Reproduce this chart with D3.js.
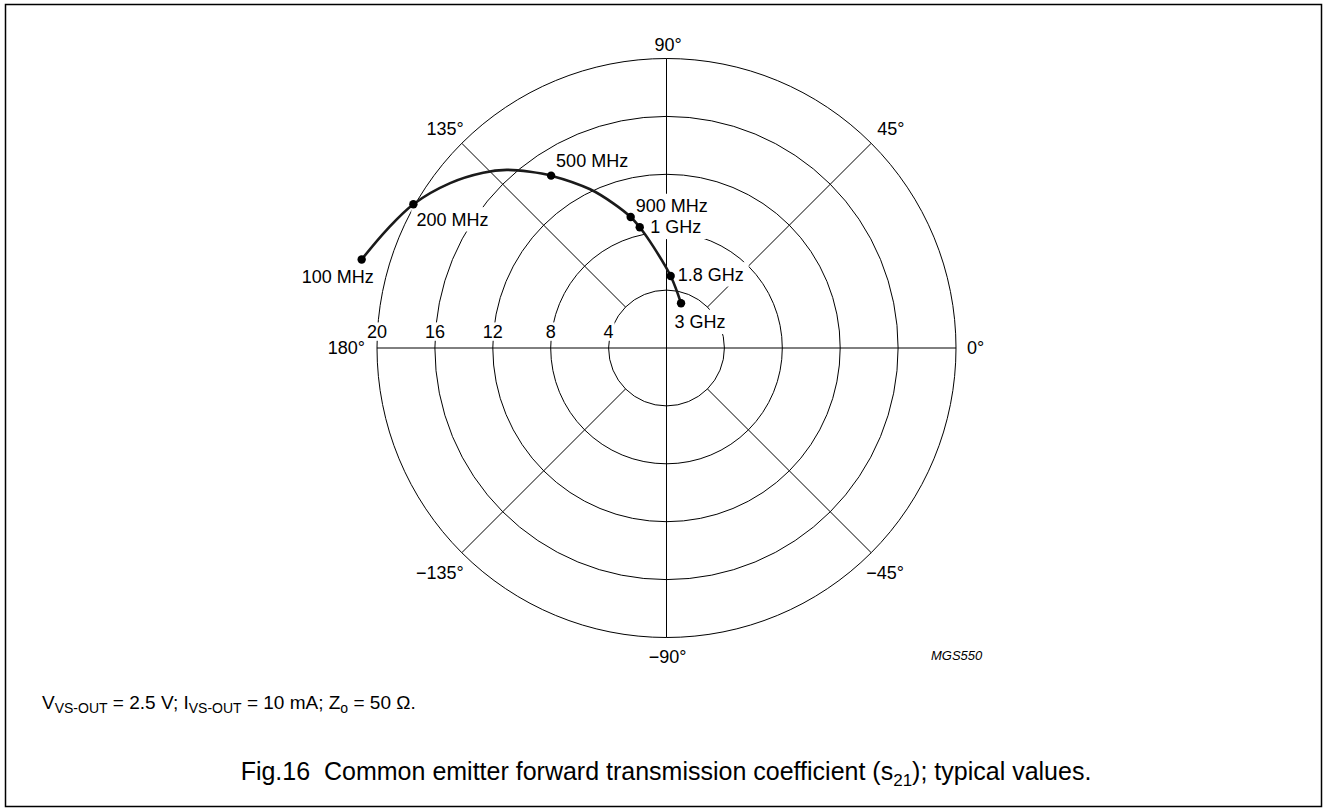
<!DOCTYPE html>
<html>
<head>
<meta charset="utf-8">
<script src="https://cdn.jsdelivr.net/npm/d3@7"></script>
<style>
  html, body { margin: 0; padding: 0; background: #fff; }
  svg { display: block; }
  text { font-family: "Liberation Sans", Arial, Helvetica, sans-serif; fill: #000; white-space: pre; }
</style>
</head>
<body>
<svg id="chart" width="1327" height="812"></svg>
<script>
// ---------- data ----------
const ringTicks = [4, 8, 12, 16, 20];
const angleTicks = [0, 45, 90, 135, 180, -135, -90, -45];
const angleTickLabels = ["0°", "45°", "90°", "135°", "180°", "−135°", "−90°", "−45°"];

// marked frequencies (|s21| , phase in degrees)
const freqLabels = ["100 MHz", "200 MHz", "500 MHz", "900 MHz", "1 GHz", "1.8 GHz", "3 GHz"];
const markerMag   = [21.93, 20.11, 14.33, 9.38, 8.54, 4.98, 3.25];
const markerPhase = [163.8, 150.4, 123.8, 105.3, 102.5, 86.7, 72.0];

// traced curve (magnitude, phase)
const traceMag   = [21.93, 20.98, 20.11, 18.79, 17.52, 16.53, 15.40, 14.33, 12.17, 10.65, 9.38, 8.54, 7.06, 4.98, 3.25];
const tracePhase = [163.8, 157.1, 150.4, 142.7, 136.3, 131.9, 127.75, 123.8, 115.7, 110.2, 105.3, 102.5, 97.4, 86.7, 72.0];

// ---------- layout ----------
const cx = 666.5, cy = 348, R = 289.5;
const svg = d3.select("#chart");
const r = d3.scaleLinear().domain([0, 20]).range([0, R]);
const rad = d => d * Math.PI / 180;
const px = (m, a) => [cx + r(m) * Math.cos(rad(a)), cy - r(m) * Math.sin(rad(a))];

// frame
svg.append("rect").attr("x", 5.5).attr("y", 4.5).attr("width", 1316).attr("height", 802)
  .attr("fill", "none").attr("stroke", "#000").attr("stroke-width", 1.5);

const grid = svg.append("g").attr("stroke", "#000").attr("stroke-width", 1).attr("fill", "none");
grid.selectAll("circle").data(ringTicks).join("circle")
  .attr("cx", cx).attr("cy", cy).attr("r", d => r(d));
// full axes
[0, 90].forEach(a => {
  const p1 = px(20, a), p2 = px(20, a + 180);
  grid.append("line").attr("x1", p1[0]).attr("y1", p1[1]).attr("x2", p2[0]).attr("y2", p2[1]);
});
// diagonal spokes from ring 4 to ring 20
[45, 135, -135, -45].forEach(a => {
  const p1 = px(4, a), p2 = px(20, a);
  grid.append("line").attr("x1", p1[0]).attr("y1", p1[1]).attr("x2", p2[0]).attr("y2", p2[1]);
});

// helper: label with white knock-out background
function knockLabel(g, x, y, txt, anchor, size, padX, padY) {
  const grp = g.append("g");
  const t = grp.append("text").attr("x", x).attr("y", y).attr("text-anchor", anchor)
    .attr("font-size", size).text(txt);
  const b = t.node().getBBox();
  grp.insert("rect", "text").attr("x", b.x - padX).attr("y", b.y + b.height * 0.12 - padY)
    .attr("width", b.width + 2 * padX).attr("height", b.height * 0.72 + 2 * padY).attr("fill", "#fff");
  return grp;
}

const labels = svg.append("g");

// ring labels
ringTicks.forEach(v => {
  knockLabel(labels, cx - r(v), cy - 10, String(v), "middle", 18, 1, 2);
});

// angle labels : offsets relative to outer endpoint
const angleLabelLayout = {
  "0": [11, 6, "start"], "45": [6, -8, "start"], "90": [-12, -8, "start"],
  "135": [2, -8, "end"], "180": [-12, 6, "end"], "-135": [2, 26, "end"],
  "-90": [1, 25, "middle"], "-45": [-5, 26, "start"]
};
angleTicks.forEach((a, i) => {
  const p = px(20, a), L = angleLabelLayout[String(a)];
  labels.append("text").attr("x", p[0] + L[0]).attr("y", p[1] + L[1])
    .attr("text-anchor", L[2]).attr("font-size", 18).text(angleTickLabels[i]);
});

// frequency labels : offsets relative to marker
const freqLabelLayout = [[12, 24, "end"], [3, 21.5, "start"], [5, -9, "start"], [5, -4.7, "start"],
                         [10.5, 6, "start"], [7, 4.7, "start"], [-6.5, 25, "start"]];
freqLabels.forEach((f, i) => {
  const p = px(markerMag[i], markerPhase[i]), L = freqLabelLayout[i];
  knockLabel(labels, p[0] + L[0], p[1] + L[1], f, L[2], 18, 5, 5);
});

// curve
const tracePts = traceMag.map((m, i) => px(m, tracePhase[i]));
svg.append("path").attr("d", d3.line().curve(d3.curveCatmullRom.alpha(0.5))(tracePts))
  .attr("fill", "none").attr("stroke", "#1a1a1a").attr("stroke-width", 2.6)
  .attr("stroke-linejoin", "round").attr("stroke-linecap", "round");

// markers
svg.append("g").selectAll("circle").data(markerMag).join("circle")
  .attr("cx", (d, i) => px(d, markerPhase[i])[0])
  .attr("cy", (d, i) => px(d, markerPhase[i])[1])
  .attr("r", 4.2).attr("fill", "#000");

// figure code
svg.append("text").attr("x", 931).attr("y", 660).attr("font-size", 13)
  .attr("font-style", "italic").text("MGS550");

// conditions
const cond = svg.append("text").attr("x", 42).attr("y", 709).attr("font-size", 19);
const parts = [["V", 0], ["VS-OUT", 1], [" = 2.5 V; I", 0], ["VS-OUT", 1], [" = 10 mA; Z", 0], ["o", 1], [" = 50 Ω.", 0]];
let sub = false;
parts.forEach(([s, isSub]) => {
  const ts = cond.append("tspan").text(s);
  if (isSub) { ts.attr("font-size", 14).attr("dy", sub ? 0 : 4); sub = true; }
  else { ts.attr("dy", sub ? -4 : 0); sub = false; }
});

// caption
const cap = svg.append("text").attr("x", 666).attr("y", 780).attr("text-anchor", "middle").attr("font-size", 25);
cap.append("tspan").text("Fig.16\u00A0\u00A0Common emitter forward transmission coefficient (s");
cap.append("tspan").attr("font-size", 17).attr("dy", 6).text("21");
cap.append("tspan").attr("dy", -6).text("); typical values.");
</script>
</body>
</html>
